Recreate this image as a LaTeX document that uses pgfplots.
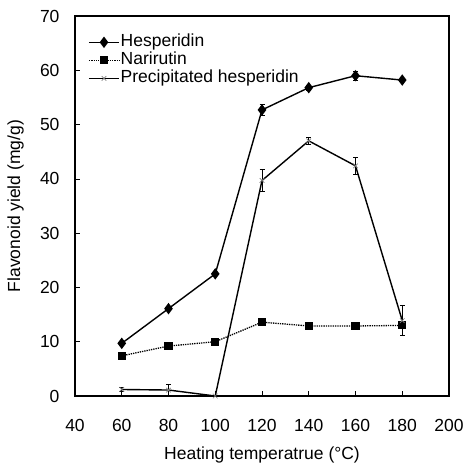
\documentclass[border=0pt]{standalone}
\usepackage{fontspec}
\setmainfont{Liberation Sans}
\usepackage{pgfplots}
\pgfplotsset{compat=1.18}
\newcommand{\ff}{\fontsize{17.5}{20}\selectfont}
\begin{document}
\begin{tikzpicture}
\useasboundingbox (-75pt,-67pt) rectangle (391pt,396pt);
\begin{axis}[
 at={(0pt,0pt)}, anchor=south west,
 scale only axis, width=374pt, height=380pt,
 xmin=40,xmax=200,ymin=0,ymax=70,
 xtick={40,60,...,200}, ytick={0,10,...,70},
 tick align=inside, xtick pos=bottom, ytick pos=left,
 major tick length=5pt,
 tick style={line width=0.6pt,black},
 /pgf/number format/assume math mode=true,
 tick label style={font=\ff},
 xticklabel style={anchor=base}, xticklabel shift=35pt,
 yticklabel shift=12pt,
 label style={font=\ff},
 xlabel={Heating temperatrue (°C)}, ylabel={Flavonoid yield (mg/g)},
 xlabel style={at={(axis description cs:0.5,-0.166)}, anchor=base},
 ylabel style={at={(axis description cs:-0.159,0.5)}, anchor=center},
 legend style={draw=none, fill=none, at={(axis description cs:0.035,0.955)}, anchor=north west, font=\ff, row sep=0pt, inner sep=0pt,
   nodes={text height=12.5pt, text depth=3.5pt, inner sep=1pt}},
 legend cell align=left,
 legend image code/.code={\draw[mark repeat=2,mark phase=2] plot coordinates {(0pt,0pt)(15pt,0pt)(30pt,0pt)};},
 axis line style={line width=1.5pt},
]
\addplot[black, line width=1.4pt, mark=diamond*, mark size=4.6pt, mark options={solid,fill=black},
  error bars/.cd, y dir=both, y explicit,
  error bar style={line width=0.8pt},
  error mark options={rotate=90, mark size=2.5pt, line width=0.8pt}]
 table[x=x,y=y,y error=e]{
 x y e
 60 9.7 0.2
 80 16.1 0.2
 100 22.5 0.2
 120 52.7 1.1
 140 56.8 0.5
 160 59.0 0.8
 180 58.2 0.3
 };
\addlegendentry{Hesperidin}
\addplot[black, line width=1.3pt, densely dotted, mark=square*, mark size=3.4pt, mark options={solid,fill=black},
  error bars/.cd, y dir=both, y explicit,
  error bar style={line width=0.8pt,solid},
  error mark options={rotate=90, mark size=2.5pt, line width=0.8pt}]
 table[x=x,y=y,y error=e]{
 x y e
 60 7.4 0.1
 80 9.2 0.1
 100 10.0 0.1
 120 13.6 0.2
 140 12.9 0.1
 160 12.9 0.1
 180 13.0 0.1
 };
\addlegendentry{Narirutin}
\addplot[black, line width=1.4pt, mark=x, mark size=3.2pt, mark options={solid,draw=gray,line width=0.7pt},
  error bars/.cd, y dir=both, y explicit,
  error bar style={line width=0.8pt,black},
  error mark options={rotate=90, mark size=2.5pt, line width=0.8pt,black}]
 table[x=x,y=y,y error=e]{
 x y e
 60 1.2 0.3
 80 1.1 1.0
 100 0.0 0.0
 120 39.7 2.0
 140 47.0 0.6
 160 42.4 1.5
 180 13.9 2.7
 };
\addlegendentry{Precipitated hesperidin}
\end{axis}
\end{tikzpicture}
\end{document}
